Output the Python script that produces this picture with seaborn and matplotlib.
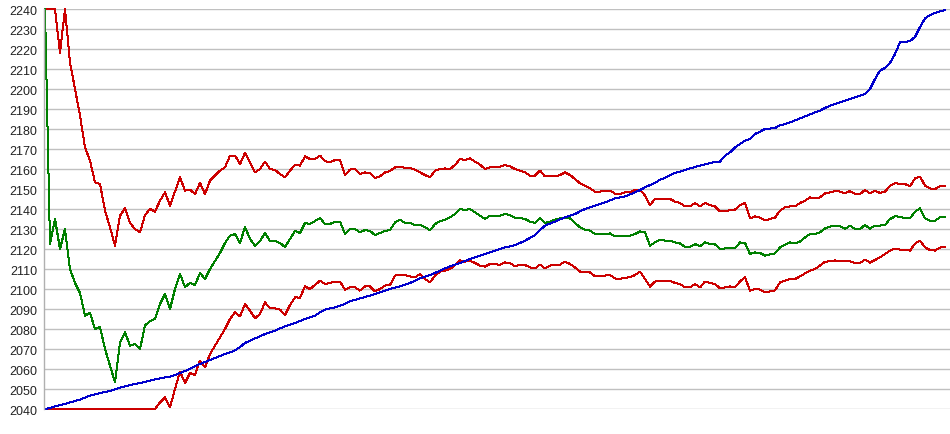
import numpy as np
import pandas as pd
import matplotlib
matplotlib.use("Agg")
import matplotlib.pyplot as plt
import seaborn as sns

# band values, one reading every bar
upper_band = [
    2240, 2240, 2240, 2218, 2240, 2213.3, 2200, 2186.7, 2170.8, 2164.2,
    2153.3, 2152.5, 2139.2, 2130.8, 2121.7, 2136.7, 2140.3, 2133, 2130, 2128.3,
    2137, 2140, 2138.7, 2144.2, 2148.3, 2141.7, 2148.7, 2155.8, 2149.2, 2149.7,
    2147.5, 2153, 2147.5, 2154.2, 2156.7, 2159.2, 2160.8, 2166.7, 2166.7, 2162.5,
    2168, 2163.3, 2158.3, 2160, 2163.7, 2160, 2159.5, 2157.5, 2155.8, 2159.2,
    2162, 2161.7, 2166.3, 2165, 2165, 2166.7, 2164, 2163.3, 2164.5, 2164.3,
    2157, 2159.7, 2160, 2157.5, 2158.3, 2158, 2155.5, 2156.3, 2158.3, 2159,
    2160.8, 2161.2, 2160.5, 2160.5, 2159.7, 2158.3, 2157, 2155.8, 2159.2, 2160,
    2160.3, 2160, 2162, 2165, 2164.5, 2165.3, 2163.7, 2162.2, 2160, 2160.8,
    2160.8, 2161.2, 2162, 2161.3, 2160, 2159.2, 2158.3, 2156.7, 2156.7, 2159.2,
    2156.3, 2156.7, 2156.3, 2157, 2158.3, 2157, 2155, 2152.8, 2151.7, 2150.3,
    2148.7, 2148.7, 2149.2, 2149.2, 2147.7, 2147.5, 2148.3, 2148.3, 2149.7, 2149.7,
    2146.7, 2142, 2145, 2145, 2145, 2145, 2143.7, 2143, 2141.3, 2141.3,
    2143, 2141.3, 2143, 2142, 2141.3, 2138.8, 2138.8, 2139.5, 2139.7, 2142,
    2143, 2135.3, 2136.3, 2135.7, 2134.3, 2135, 2135.7, 2139.2, 2140.8, 2141.3,
    2141.3, 2143, 2144.2, 2145.8, 2145.3, 2145.8, 2147.8, 2148.3, 2149, 2148.7,
    2147.8, 2149, 2147.5, 2147.5, 2149.5, 2147.8, 2149.2, 2148, 2148.7, 2151.5,
    2153, 2152.5, 2152.5, 2151.3, 2155.3, 2156.2, 2151.7, 2150.3, 2150, 2151.3,
    2151.3,
]

mid_band = [
    2240, 2122.5, 2135, 2120, 2130, 2110, 2103, 2098, 2086.7, 2088,
    2080, 2081, 2070, 2061.7, 2053.3, 2073.3, 2078.3, 2071.7, 2072.5, 2070,
    2081.7, 2084, 2085, 2092.5, 2097.5, 2090, 2100, 2107.5, 2101, 2103,
    2102, 2108, 2105, 2110, 2114, 2118, 2123, 2126.7, 2127.5, 2123,
    2131, 2125, 2121.7, 2124, 2128, 2124, 2124, 2123, 2121, 2125,
    2129, 2128, 2133, 2132.5, 2134, 2135.5, 2132.5, 2132.5, 2133.7, 2133.7,
    2127.5, 2130, 2130, 2128.3, 2129.5, 2129, 2127, 2128, 2129, 2129.5,
    2133.3, 2134.7, 2133, 2133, 2132, 2132, 2131, 2129.3, 2132.5, 2133.8,
    2134.7, 2135.8, 2137.5, 2140, 2139.5, 2140, 2138.3, 2136.7, 2135, 2136.7,
    2136.3, 2136.7, 2137.5, 2137, 2135.5, 2135.5, 2135, 2133.7, 2133, 2135.3,
    2133, 2133.7, 2134.7, 2135.3, 2135.8, 2135.3, 2133, 2130.8, 2129.7, 2129.2,
    2127.5, 2127.5, 2127.5, 2127.8, 2126.3, 2126.5, 2126.7, 2126.7, 2127.5, 2128.8,
    2128.3, 2121.7, 2123.3, 2124.7, 2124.2, 2124.2, 2123.3, 2122.8, 2121, 2121,
    2122.5, 2121.3, 2123.3, 2122.5, 2122.3, 2120, 2120.3, 2120.3, 2120.3, 2123.3,
    2123, 2117.5, 2118.3, 2118, 2116.7, 2117.3, 2117.8, 2120.8, 2122.2, 2123.3,
    2122.8, 2123.7, 2125.8, 2127.5, 2127.5, 2128.3, 2130.3, 2131.2, 2131.7, 2131.5,
    2130, 2131.7, 2130, 2130, 2132, 2130.2, 2131.7, 2131.7, 2132, 2135,
    2136.3, 2136.2, 2135.3, 2135.3, 2138.7, 2140.3, 2135.3, 2134.2, 2134.2, 2135.8,
    2135.8,
]

lower_band = [
    2040, 2040, 2040, 2040, 2040, 2040, 2040, 2040, 2040, 2040,
    2040, 2040, 2040, 2040, 2040, 2040, 2040, 2040, 2040, 2040,
    2040, 2040, 2040, 2043.3, 2045.8, 2040.8, 2050, 2058.7, 2053, 2058,
    2057, 2064.2, 2060.8, 2067.5, 2071.7, 2075.8, 2080, 2085, 2088.3, 2086.3,
    2092.5, 2089.2, 2085.3, 2087.5, 2093.3, 2090.3, 2090.3, 2089.7, 2087, 2092,
    2095.8, 2095.7, 2101.3, 2100, 2102, 2104.2, 2102.5, 2103, 2103.7, 2103.7,
    2099.7, 2100.8, 2100.8, 2099.2, 2101.3, 2101.3, 2098.8, 2100, 2101.7, 2102,
    2106.7, 2107, 2107, 2106.3, 2105.8, 2107.5, 2105, 2103.3, 2106.7, 2108.7,
    2109.2, 2110, 2112, 2114.3, 2113.7, 2114.2, 2113, 2111.7, 2111.2, 2112.5,
    2112.3, 2112.2, 2113.3, 2113, 2111.3, 2112.2, 2112, 2110.8, 2110.3, 2112.2,
    2110.3, 2111.7, 2112.2, 2112.2, 2113.7, 2112.5, 2110.8, 2108.7, 2108.3, 2108.3,
    2106.3, 2106.7, 2106.7, 2107, 2105.3, 2105, 2105.7, 2105.8, 2107, 2108.7,
    2105, 2101.2, 2103.7, 2104.2, 2104, 2104.2, 2103, 2102.5, 2100.8, 2100.8,
    2102.5, 2100.8, 2103.7, 2103, 2102.5, 2100.3, 2100.8, 2101.3, 2100.8, 2103.8,
    2105.8, 2099.2, 2100, 2099.7, 2098.3, 2098.8, 2099.3, 2103.3, 2104.2, 2105,
    2105, 2106.3, 2107.8, 2109.2, 2110, 2111.7, 2113.7, 2113.8, 2114.3, 2113.8,
    2114.2, 2113.8, 2113, 2113, 2114.7, 2113.2, 2114.5, 2115.8, 2117.5, 2119.2,
    2120.2, 2119.7, 2119.7, 2119.2, 2122.7, 2124.2, 2120.8, 2119.5, 2119.2, 2120.7,
    2121,
]

trend = [
    2040, 2040.5, 2041.3, 2042, 2042.6, 2043.3, 2044, 2044.7, 2045.7, 2046.7,
    2047.3, 2048, 2048.5, 2049, 2049.8, 2050.7, 2051.3, 2052, 2052.5, 2053,
    2053.6, 2054.2, 2054.8, 2055.3, 2055.8, 2056.2, 2057, 2058, 2059, 2060,
    2061.5, 2062.5, 2063.5, 2064.5, 2065.5, 2066.5, 2067.5, 2068.3, 2069.3, 2071,
    2073, 2074.2, 2075.3, 2076.3, 2077.5, 2078.3, 2079.2, 2080.3, 2081.3, 2082.2,
    2083, 2084, 2085, 2085.8, 2086.7, 2088.3, 2089.7, 2090.3, 2090.8, 2091.7,
    2092.5, 2094, 2094.5, 2095.3, 2096, 2096.7, 2097.5, 2098.3, 2099.2, 2100,
    2100.7, 2101.3, 2102.2, 2103, 2104.2, 2105.3, 2106.2, 2107, 2108, 2109.2,
    2110.3, 2111.3, 2112.2, 2113, 2114, 2115, 2115.8, 2116.7, 2117.5, 2118.3,
    2119.2, 2120, 2120.8, 2121.3, 2122, 2123, 2124.2, 2125.5, 2127, 2129.5,
    2131.7, 2132.7, 2133.7, 2134.8, 2135.8, 2136.7, 2137.5, 2138.8, 2140, 2140.8,
    2141.7, 2142.5, 2143.3, 2144.3, 2145.3, 2145.8, 2146.3, 2147.3, 2148.3, 2149.5,
    2150.8, 2152, 2153, 2154.7, 2155.5, 2157, 2158, 2158.7, 2159.5, 2160.3,
    2161, 2161.7, 2162.3, 2163, 2163.5, 2163.7, 2166.7, 2168.3, 2170.8, 2172.5,
    2174.2, 2175, 2177.5, 2178.7, 2180, 2180.2, 2180.5, 2181.8, 2182.5, 2183.3,
    2184.3, 2185.3, 2186.3, 2187.3, 2188.3, 2189.2, 2190.5, 2191.7, 2192.5, 2193.3,
    2194.2, 2195, 2195.8, 2196.7, 2197.5, 2200, 2205, 2209.2, 2210.5, 2213,
    2217.5, 2223.3, 2223.5, 2224, 2226, 2231, 2235.3, 2237, 2238, 2238.8,
    2239.5,
]

y_ticks = list(range(2040, 2241, 10))

bars = np.arange(len(mid_band))
df = pd.DataFrame({"bar": bars, "upper": upper_band, "mid": mid_band,
                   "lower": lower_band, "trend": trend})

sns.set_style("white")
plt.rcParams["font.family"] = ["Liberation Sans", "DejaVu Sans"]

fig = plt.figure(figsize=(9.5, 4.35), dpi=100)
ax = fig.add_axes([44 / 950, 25 / 435, 906 / 950, 400 / 435])

line_colors = {"upper": "#cc0000", "mid": "#008000", "lower": "#cc0000", "trend": "#0000cc"}
for col in ["upper", "mid", "lower", "trend"]:
    sns.lineplot(data=df, x="bar", y=col, color=line_colors[col], lw=0.72,
                 antialiased=False, clip_on=False, ax=ax)

ax.set_xlim(-0.2, 181)
ax.set_ylim(2040, 2240)
ax.set_yticks(y_ticks)
ax.set_xticks([])
ax.set_xlabel("")
ax.set_ylabel("")
ax.yaxis.grid(True, color="#c0c0c0", lw=1.0)
ax.set_axisbelow(True)
ax.tick_params(axis="y", length=0, pad=5, labelsize=9, labelcolor="#222222")

for side in ["top", "right", "bottom"]:
    ax.spines[side].set_visible(False)
ax.spines["left"].set_color("#b0b0b0")
ax.spines["left"].set_linewidth(1.0)

fig.savefig("out.png", dpi=100)
